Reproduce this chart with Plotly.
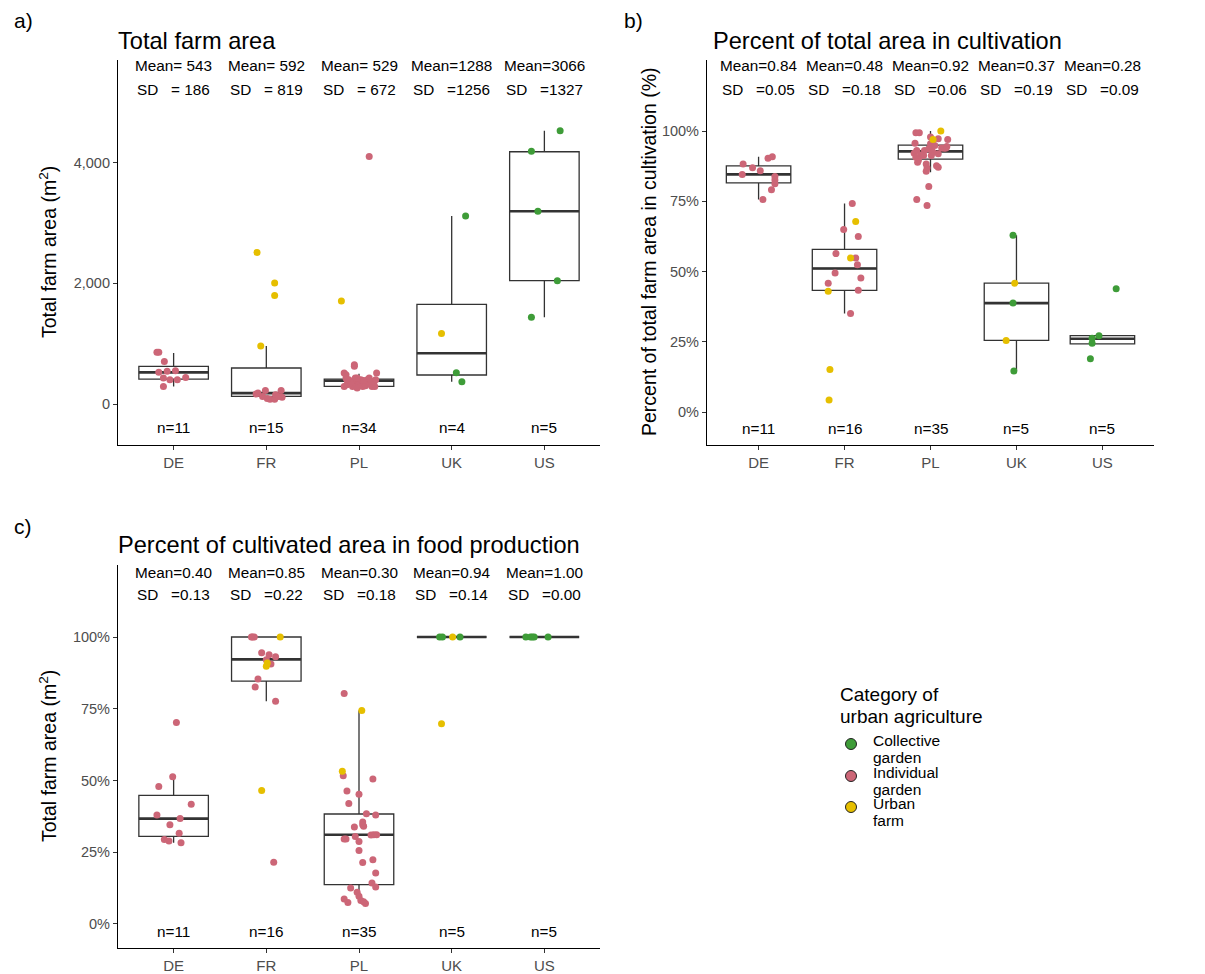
import plotly.graph_objects as go

# ---------------- data ----------------
countries = ["DE", "FR", "PL", "UK", "US"]
cat_names = ["Collective garden", "Individual garden", "Urban farm"]
cat_lines = [["Collective", "garden"], ["Individual", "garden"], ["Urban", "farm"]]
cat_colors = ["#3e9c38", "#cc6677", "#e6bf00"]

# Panel a: total farm area (m2)
mean_a = [543, 592, 529, 1288, 3066]
sd_a = [186, 819, 672, 1256, 1327]
n_a = [11, 15, 34, 4, 5]
q1_a = [415, 127, 294, 482, 2044]
med_a = [526, 183, 388, 842, 3191]
q3_a = [626, 598, 415, 1651, 4177]
lo_a = [294, 83, 280, 371, 1440]
hi_a = [848, 964, 504, 3113, 4526]
pts_a_country = [0]*11 + [1]*15 + [2]*34 + [3]*4 + [4]*5
pts_a_offset = [-0.18, -0.16, -0.10, -0.16, -0.07, 0.02, -0.11, -0.04, 0.04, 0.13, -0.11,
                -0.10, 0.09, 0.09, -0.06, -0.11, -0.09, -0.01, 0.01, 0.04, 0.09, 0.10, 0.16, 0.17, -0.04, 0.13,
                -0.19, 0.11,
                -0.16, -0.14, -0.11, -0.09, -0.05, -0.02, 0.00, 0.05, 0.09, 0.13, 0.16, 0.18,
                -0.16, -0.13, -0.07, -0.02, 0.04, 0.07, 0.14, 0.17, -0.05, -0.05, 0.19, -0.14,
                -0.04, 0.02, 0.11, -0.09, -0.13, 0.05, -0.02, 0.13,
                -0.11, 0.15, 0.05, 0.11,
                0.17, -0.14, -0.07, 0.14, -0.14]
pts_a_value = [859, 859, 704, 526, 543, 554, 432, 404, 404, 443, 294,
               2510, 2005, 1800, 964, 166, 183, 227, 94, 83, 83, 155, 227, 116, 127, 127,
               1706, 4100,
               515, 432, 404, 377, 349, 377, 321, 349, 404, 377, 349, 404,
               294, 321, 294, 266, 294, 305, 294, 294, 654, 626, 515, 488,
               432, 404, 432, 349, 404, 393, 432, 321,
               1169, 3113, 521, 371,
               4526, 4183, 3191, 2044, 1440]
pts_a_cat = [1]*11 + [2, 2, 2, 2] + [1]*11 + [2, 1] + [1]*32 + [2, 0, 0, 0] + [0]*5

# Panel b: percent of total area in cultivation
mean_b = [0.84, 0.48, 0.92, 0.37, 0.28]
sd_b = [0.05, 0.18, 0.06, 0.19, 0.09]
n_b = [11, 16, 35, 5, 5]
q1_b = [0.816, 0.433, 0.900, 0.255, 0.243]
med_b = [0.846, 0.511, 0.928, 0.388, 0.261]
q3_b = [0.876, 0.579, 0.950, 0.459, 0.272]
lo_b = [0.757, 0.351, 0.854, 0.146, 0.243]
hi_b = [0.909, 0.742, 1.000, 0.629, 0.272]
pts_b_country = [0]*11 + [1]*16 + [2]*35 + [3]*5 + [4]*5
pts_b_offset = [-0.18, -0.19, -0.07, 0.02, 0.11, 0.16, 0.19, 0.19, 0.19, 0.15, 0.05,
                0.13, 0.07, -0.19, -0.17, -0.18,
                0.09, -0.01, 0.16, -0.10, 0.13, 0.15, -0.11, 0.19, -0.19, 0.16, 0.07,
                0.12, 0.03,
                -0.17, -0.13, 0.00, 0.09, 0.20, -0.18, 0.00, 0.05, 0.13, 0.18,
                -0.16, -0.07, 0.01, -0.19, -0.11, 0.09, -0.17, -0.08, 0.01, -0.14,
                -0.15, -0.05, 0.07, -0.04, -0.05, 0.09, -0.02, -0.16, -0.04, 0.16,
                0.19, -0.02, 0.03,
                -0.04, -0.04, -0.03, -0.02, -0.12,
                0.16, -0.04, -0.12, -0.12, -0.14]
pts_b_value = [0.883, 0.846, 0.870, 0.859, 0.903, 0.909, 0.838, 0.826, 0.813, 0.791, 0.757,
               0.678, 0.548, 0.430, 0.152, 0.043,
               0.742, 0.650, 0.625, 0.564, 0.548, 0.524, 0.495, 0.477, 0.459, 0.434, 0.351,
               1.000, 0.970,
               0.994, 0.994, 0.979, 0.973, 0.970, 0.957, 0.955, 0.949, 0.940, 0.940,
               0.931, 0.931, 0.933, 0.921, 0.915, 0.919, 0.907, 0.913, 0.913, 0.897,
               0.889, 0.883, 0.877, 0.869, 0.857, 0.871, 0.803, 0.757, 0.735, 0.939,
               0.945, 0.937, 0.925,
               0.629, 0.388, 0.146, 0.459, 0.255,
               0.439, 0.272, 0.263, 0.245, 0.190]
pts_b_cat = [1]*11 + [2]*5 + [1]*11 + [2, 2] + [1]*33 + [0, 0, 0, 2, 2] + [0]*5

# Panel c: percent of cultivated area in food production
mean_c = [0.40, 0.85, 0.30, 0.94, 1.00]
sd_c = [0.13, 0.22, 0.18, 0.14, 0.00]
n_c = [11, 16, 35, 5, 5]
q1_c = [0.305, 0.846, 0.137, 1.0, 1.0]
med_c = [0.367, 0.922, 0.311, 1.0, 1.0]
q3_c = [0.448, 1.000, 0.383, 1.0, 1.0]
lo_c = [0.283, 0.776, 0.073, 1.0, 1.0]
hi_c = [0.513, 1.000, 0.744, 1.0, 1.0]
pts_c_country = [0]*11 + [1]*16 + [2]*35 + [3]*5 + [4]*5
pts_c_offset = [0.03, -0.01, -0.16, 0.19, -0.18, 0.07, -0.04, 0.06, -0.10, -0.05, 0.08,
                -0.15, -0.13, -0.05, 0.03, 0.10, 0.05, -0.09, -0.12, 0.10, 0.08, 0.00, -0.16,
                0.15, 0.01, 0.00, -0.05,
                0.03, -0.18,
                -0.16, -0.17, 0.15, -0.13, 0.00, -0.11, 0.08, 0.18, 0.04, -0.05, 0.05,
                0.16, 0.19, -0.16, -0.14, 0.00, 0.00, 0.15, 0.04, 0.18, 0.14, 0.18,
                -0.09, -0.02, 0.00, -0.16, -0.12, 0.02, 0.05, 0.07, 0.04, 0.13, -0.04,
                -0.13, -0.10, 0.09, 0.01, -0.11,
                -0.20, -0.15, -0.13, -0.11, 0.04]
pts_c_value = [0.702, 0.513, 0.479, 0.417, 0.380, 0.367, 0.346, 0.316, 0.294, 0.289, 0.283,
               1.000, 1.000, 0.945, 0.938, 0.931, 0.906, 0.854, 0.826, 0.776, 0.215, 0.921, 1.000,
               1.000, 0.909, 0.898, 0.465,
               0.744, 0.532,
               0.803, 0.516, 0.505, 0.463, 0.452, 0.420, 0.384, 0.380, 0.355, 0.338, 0.340,
               0.311, 0.311, 0.296, 0.296, 0.287, 0.256, 0.224, 0.214, 0.177, 0.143, 0.129,
               0.125, 0.110, 0.096, 0.087, 0.075, 0.082, 0.077, 0.071, 0.346, 0.310, 0.305,
               1.000, 1.000, 1.000, 1.000, 0.698,
               1.000, 1.000, 1.000, 1.000, 1.000]
pts_c_cat = [1]*11 + [1]*12 + [2]*4 + [2, 2] + [1]*33 + [0, 0, 0, 2, 2] + [0]*5

# ---------------- figure ----------------
W, H = 1205, 974
FONT = "Liberation Sans, Arial, sans-serif"
BOXW = 0.75

fig = go.Figure()

panels = [
    dict(xa="x", ya="y", q1=q1_a, med=med_a, q3=q3_a, lo=lo_a, hi=hi_a,
         pc=pts_a_country, po=pts_a_offset, pv=pts_a_value, pk=pts_a_cat,
         mean=mean_a, sd=sd_a, n=n_a, fmt="int", ymean=5601, ysd=5213, yn=-388),
    dict(xa="x2", ya="y2", q1=q1_b, med=med_b, q3=q3_b, lo=lo_b, hi=hi_b,
         pc=pts_b_country, po=pts_b_offset, pv=pts_b_value, pk=pts_b_cat,
         mean=mean_b, sd=sd_b, n=n_b, fmt="dec", ymean=1.233, ysd=1.149, yn=-0.057),
    dict(xa="x3", ya="y3", q1=q1_c, med=med_c, q3=q3_c, lo=lo_c, hi=hi_c,
         pc=pts_c_country, po=pts_c_offset, pv=pts_c_value, pk=pts_c_cat,
         mean=mean_c, sd=sd_c, n=n_c, fmt="dec", ymean=1.225, ysd=1.147, yn=-0.026),
]

NB = "\u00a0"
annotations = []
shapes = []
xpos = list(range(1, len(countries) + 1))

for p in panels:
    fig.add_trace(go.Box(
        x=xpos, q1=p["q1"], median=p["med"], q3=p["q3"],
        lowerfence=p["lo"], upperfence=p["hi"],
        width=BOXW, whiskerwidth=0, boxpoints=False,
        fillcolor="white", line=dict(color="#333333", width=1.3),
        xaxis=p["xa"], yaxis=p["ya"], showlegend=False, hoverinfo="skip"))
    mx, my = [], []
    for i, m in enumerate(p["med"]):
        mx += [xpos[i] - BOXW / 2, xpos[i] + BOXW / 2, None]
        my += [m, m, None]
    fig.add_trace(go.Scatter(x=mx, y=my, mode="lines",
                             line=dict(color="#333333", width=2.6),
                             xaxis=p["xa"], yaxis=p["ya"], showlegend=False, hoverinfo="skip"))
    for k in range(len(cat_names)):
        xs = [xpos[c] + o for c, o, kk in zip(p["pc"], p["po"], p["pk"]) if kk == k]
        ys = [v for v, kk in zip(p["pv"], p["pk"]) if kk == k]
        fig.add_trace(go.Scatter(x=xs, y=ys, mode="markers",
                                 marker=dict(color=cat_colors[k], size=7),
                                 xaxis=p["xa"], yaxis=p["ya"], showlegend=False,
                                 name=cat_names[k]))
    for i in range(len(countries)):
        if p["fmt"] == "int":
            mt = f"Mean={p['mean'][i]:4d}"
            st = f"SD   ={p['sd'][i]:4d}"
        else:
            mt = f"Mean={p['mean'][i]:.2f}"
            st = f"SD   ={p['sd'][i]:.2f}"
        for txt, yy in [(mt, p["ymean"]), (st, p["ysd"]), (f"n={p['n'][i]}", p["yn"])]:
            annotations.append(dict(x=xpos[i], y=yy, xref=p["xa"], yref=p["ya"],
                                    text=txt.replace(" ", NB), showarrow=False,
                                    font=dict(size=15.3, color="black", family=FONT),
                                    xanchor="center", yanchor="middle"))


def px_x(v):
    return v / W


def px_y(v):
    return 1 - v / H


xa_dom = [px_x(118), px_x(600)]
xb_dom = [px_x(707), px_x(1154)]
top_ab, bot_ab = px_y(60), px_y(445)
top_c, bot_c = px_y(565), px_y(948)

xaxis_common = dict(range=[0.4, 5.6], tickvals=xpos, ticktext=countries,
                    showline=True, linecolor="black", linewidth=1.2,
                    ticks="outside", ticklen=4, tickcolor="#333333",
                    tickfont=dict(size=15, color="#4d4d4d", family=FONT),
                    showgrid=False, zeroline=False, fixedrange=True)
yaxis_common = dict(showline=True, linecolor="black", linewidth=1.2,
                    ticks="outside", ticklen=4, tickcolor="#333333",
                    tickfont=dict(size=14.5, color="#4d4d4d", family=FONT),
                    showgrid=False, zeroline=False, fixedrange=True)

fig.update_layout(
    width=W, height=H,
    margin=dict(l=0, r=0, t=0, b=0),
    paper_bgcolor="white", plot_bgcolor="white",
    font=dict(family=FONT, color="black"),
    showlegend=False,
    xaxis=dict(domain=xa_dom, anchor="y", **xaxis_common),
    yaxis=dict(domain=[bot_ab, top_ab], anchor="x", range=[-676, 5695],
               tickvals=[0, 2000, 4000], tickformat=",d", **yaxis_common),
    xaxis2=dict(domain=xb_dom, anchor="y2", **xaxis_common),
    yaxis2=dict(domain=[bot_ab, top_ab], anchor="x2", range=[-0.117, 1.253],
                tickvals=[0, 0.25, 0.5, 0.75, 1.0], tickformat=".0%", **yaxis_common),
    xaxis3=dict(domain=xa_dom, anchor="y3", **xaxis_common),
    yaxis3=dict(domain=[bot_c, top_c], anchor="x3", range=[-0.084, 1.251],
                tickvals=[0, 0.25, 0.5, 0.75, 1.0], tickformat=".0%", **yaxis_common),
)

# legend (drawn manually to match ggplot's compact spacing)
annotations.append(dict(x=px_x(838), y=px_y(694), xref="paper", yref="paper",
                        text="Category of", showarrow=False, xanchor="left", yanchor="middle",
                        font=dict(size=19, color="black", family=FONT)))
annotations.append(dict(x=px_x(838), y=px_y(716), xref="paper", yref="paper",
                        text="urban agriculture", showarrow=False, xanchor="left", yanchor="middle",
                        font=dict(size=19, color="black", family=FONT)))
legend_marker_y = [744, 776, 807]
for k in range(len(cat_names)):
    cy = legend_marker_y[k]
    shapes.append(dict(type="circle", xref="paper", yref="paper",
                       x0=px_x(845.5), x1=px_x(856.5), y0=px_y(cy + 5.5), y1=px_y(cy - 5.5),
                       fillcolor=cat_colors[k], line=dict(color="#222222", width=1)))
    for j, line_txt in enumerate(cat_lines[k]):
        annotations.append(dict(x=px_x(871), y=px_y(cy - 4 + 17 * j), xref="paper", yref="paper",
                                text=line_txt, showarrow=False, xanchor="left", yanchor="middle",
                                font=dict(size=15.5, color="black", family=FONT)))

extra = [
    dict(x=px_x(12), y=px_y(21), text="a)", size=21),
    dict(x=px_x(622), y=px_y(21), text="b)", size=21),
    dict(x=px_x(12), y=px_y(526), text="c)", size=21),
    dict(x=px_x(116), y=px_y(41), text="Total farm area", size=23.6),
    dict(x=px_x(711), y=px_y(41), text="Percent of total area in cultivation", size=23.6),
    dict(x=px_x(116), y=px_y(545), text="Percent of cultivated area in food production", size=23.6),
]
for e in extra:
    annotations.append(dict(x=e["x"], y=e["y"], xref="paper", yref="paper", text=e["text"],
                            showarrow=False, xanchor="left", yanchor="middle",
                            font=dict(size=e["size"], color="black", family=FONT)))

for txt, xx, yy in [("Total farm area (m<sup>2</sup>)", 48, 252),
                    ("Percent of total farm area in cultivation (%)", 649, 252),
                    ("Total farm area (m<sup>2</sup>)", 48, 756)]:
    annotations.append(dict(x=px_x(xx), y=px_y(yy), xref="paper", yref="paper", text=txt,
                            showarrow=False, textangle=-90, xanchor="center", yanchor="middle",
                            font=dict(size=19.5, color="black", family=FONT)))

fig.update_layout(annotations=annotations, shapes=shapes)

fig.write_html("out.html", config={"displayModeBar": False},
               post_script="document.body.style.margin='0';document.body.style.overflow='hidden';")
